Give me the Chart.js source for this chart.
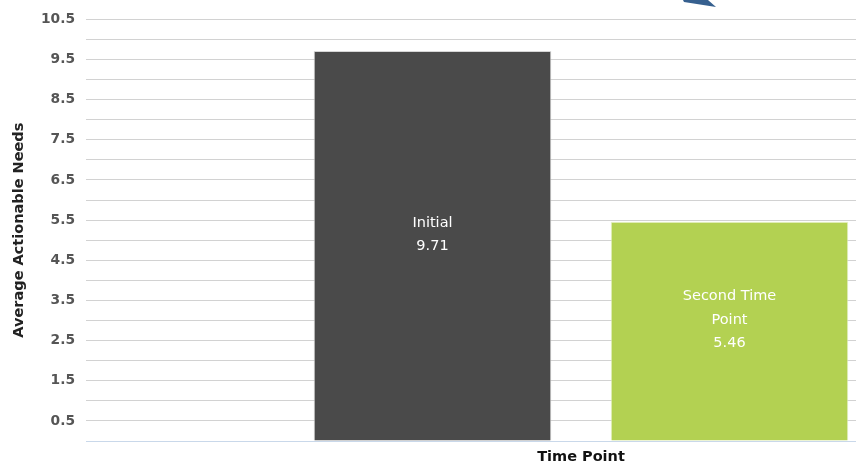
<!DOCTYPE html>
<html>
<head>
<meta charset="utf-8">
<script src="https://cdn.jsdelivr.net/npm/chart.js@4/dist/chart.umd.min.js"></script>
<style>
  html, body { margin: 0; padding: 0; background: #ffffff; overflow: hidden; }
  #wrap { width: 856px; height: 466px; overflow: hidden; position: relative; }
  canvas { display: block; }
</style>
</head>
<body>
<div id="wrap"><canvas id="c" width="1090" height="466"></canvas></div>
<script>
// Average actionable needs at each time point
const categories = [''];
const seriesNames = ['Initial', 'Second Time Point'];
const initialValues = [9.71];
const secondTimeValues = [5.46];
const seriesColors = ['#4a4a4a', '#b3d152'];
const yMin = 0, yMax = 10.5, yStep = 0.5;

const FONT = '"DejaVu Sans", Verdana, sans-serif';

// White "name / value" labels centred inside each bar
const barLabels = {
  id: 'barLabels',
  afterDatasetsDraw(chart) {
    const ctx = chart.ctx;
    ctx.save();
    ctx.font = '14.5px ' + FONT;
    ctx.fillStyle = '#ffffff';
    ctx.textAlign = 'center';
    ctx.textBaseline = 'middle';
    chart.data.datasets.forEach((ds, i) => {
      const meta = chart.getDatasetMeta(i);
      meta.data.forEach((bar, j) => {
        const words = ds.label.split(' ');
        const lines = [];
        let cur = '';
        words.forEach(w => {
          const test = cur ? cur + ' ' + w : w;
          if (cur && ctx.measureText(test).width > 130) { lines.push(cur); cur = w; }
          else cur = test;
        });
        if (cur) lines.push(cur);
        lines.push(ds.data[j].toFixed(2));
        const lh = 23.5;
        const mid = (bar.y + bar.base) / 2 - 11;
        const start = mid - (lines.length - 1) * lh / 2;
        lines.forEach((t, k) => ctx.fillText(t, bar.x, start + k * lh));
      });
    });
    ctx.restore();
  }
};

// Blue pointer shape at the top edge
const pointer = {
  id: 'pointer',
  afterDraw(chart) {
    const ctx = chart.ctx;
    ctx.save();
    ctx.fillStyle = '#36608f';
    ctx.beginPath();
    ctx.moveTo(683, 0);
    ctx.lineTo(708, 0);
    ctx.lineTo(716, 7);
    ctx.lineTo(684, 2);
    ctx.closePath();
    ctx.fill();
    ctx.restore();
  }
};

new Chart(document.getElementById('c'), {
  type: 'bar',
  data: {
    labels: categories,
    datasets: [
      { label: seriesNames[0], data: initialValues, backgroundColor: seriesColors[0],
        borderColor: 'rgba(210,210,210,0.9)', borderWidth: 1, borderSkipped: 'bottom' },
      { label: seriesNames[1], data: secondTimeValues, backgroundColor: seriesColors[1],
        borderColor: 'rgba(230,240,200,0.9)', borderWidth: 1, borderSkipped: 'bottom' }
    ]
  },
  options: {
    responsive: false,
    animation: false,
    categoryPercentage: 0.6,
    barPercentage: 0.8,
    layout: { padding: { top: 19, right: 14, bottom: 0, left: 0 } },
    plugins: { legend: { display: false }, tooltip: { enabled: false } },
    scales: {
      x: {
        grid: { display: false },
        border: { display: true, color: '#c9d8ea', width: 1 },
        ticks: { display: false },
        title: { display: true, text: 'Time Point', color: '#111111',
                 font: { family: FONT, size: 14.5, weight: 'bold' },
                 padding: { top: 0, bottom: 0 } },
        afterFit(s) { s.height = 25; }
      },
      y: {
        min: yMin, max: yMax,
        border: { display: false },
        grid: { color: ctx => ctx.tick && ctx.tick.value === 0 ? '#c9d8ea' : '#d2d2d2',
                lineWidth: 1, drawTicks: false },
        ticks: {
          stepSize: yStep, autoSkip: false, padding: 11, color: '#555555',
          font: { family: FONT, size: 13.8, weight: 'bold' },
          callback: v => (Math.round(v * 2) % 2 === 1 ? v.toFixed(1) : '')
        },
        title: { display: true, text: 'Average Actionable Needs', color: '#222222',
                 font: { family: FONT, size: 14.5, weight: 'bold' },
                 padding: { top: 11, bottom: 0 } },
        afterFit(s) { s.width = 86; }
      }
    }
  },
  plugins: [barLabels, pointer]
});
</script>
</body>
</html>
